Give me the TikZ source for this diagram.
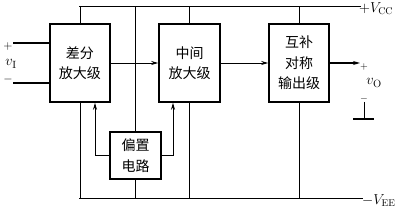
\documentclass[tikz,border=0pt]{standalone}
\usepackage{fontspec}
\newfontfamily\cjk{Noto Sans CJK SC}
\usetikzlibrary{arrows.meta}
\begin{document}
\begin{tikzpicture}[x=1pt,y=-1pt,
  blk/.style={draw,line width=1.6pt,minimum width=#1,inner sep=0pt,align=center,font=\cjk\fontsize{14}{20.5}\selectfont},
  wire/.style={line width=0.8pt},
  arr/.style={wire,-{Stealth[length=7pt,width=4pt]}},
  lbl/.style={inner sep=0pt,font=\fontsize{12}{14}\selectfont}]
\useasboundingbox (0,0) rectangle (400,208);
\fill[white] (0,0) rectangle (400,208);
% blocks
\node[blk=60pt,minimum height=78pt] (b1) at (80,63) {差分\\放大级};
\node[blk=61pt,minimum height=78pt] (b2) at (189.5,63) {中间\\放大级};
\node[blk=60pt,minimum height=78pt] (b3) at (299,63) {互补\\对称\\输出级};
\node[blk=51pt,minimum height=47pt] (bias) at (135.5,155.5) {偏置\\电路};
% rails
\coordinate (tl) at (79,6);
\coordinate (tr) at (361,6);
\coordinate (bl) at (79,198.5);
\coordinate (br) at (363,198.5);
\draw[wire] (tl) -- (tr);
\draw[wire] (bl) -- (br);
\draw[wire] (b1.north) -- (b1.north |- tl);
\draw[wire] (b2.north) -- (b2.north |- tl);
\draw[wire] (b3.north) -- (b3.north |- tl);
\draw[wire] (bias.north) -- (bias.north |- tl);
\draw[wire] (b1.south) -- (b1.south |- bl);
\draw[wire] (b2.south) -- (b2.south |- bl);
\draw[wire] (b3.south) -- (b3.south |- bl);
\draw[wire] (bias.south) -- (bias.south |- bl);
% signal path
\draw[arr] (b1.east) -- (b2.west);
\draw[arr] (b2.east) -- (b3.west);
\coordinate (out) at (360,63);
\draw[arr,line width=1.1pt] (b3.east) -- (out);
% bias arrows
\coordinate (bl1) at (95,155.5);
\coordinate (br1) at (173,155.5);
\draw[arr] (bias.west) -- (bl1) -- (bl1 |- b1.south);
\draw[arr] (bias.east) -- (br1) -- (br1 |- b2.south);
% inputs
\coordinate (ip) at (13,43);
\coordinate (im) at (13,83);
\draw[line width=1.1pt] (ip) -- (ip -| b1.west);
\draw[line width=1.1pt] (im) -- (im -| b1.west);
\node[lbl] (pI) at (8,47) {$+$};
\node[lbl,font=\fontsize{15}{17}\selectfont] (vI) at (11,64) {$v_{\mathrm{I}}$};
\node[lbl] (mI) at (8,80) {$-$};
% output
\node[lbl,font=\fontsize{10}{12}\selectfont] (pO) at (364,67) {$+$};
\node[lbl,font=\fontsize{15}{17}\selectfont] (vO) at (374,83) {$v_{\mathrm{O}}$};
\node[lbl,font=\fontsize{10}{12}\selectfont] (mO) at (364,99) {$-$};
\coordinate (g1) at (364,102);
\coordinate (g2) at (364,119);
\draw[wire] (g1) -- (g2);
\draw[line width=2pt] ([xshift=-11pt]g2) -- ([xshift=10pt]g2);
% supply labels
\node[lbl,anchor=west,font=\fontsize{14}{16}\selectfont] (vcc) at (359,9) {$+V_{\mathrm{CC}}$};
\node[lbl,anchor=west,font=\fontsize{14}{16}\selectfont] (vee) at (362,201) {$-V_{\mathrm{EE}}$};
\end{tikzpicture}
\end{document}
